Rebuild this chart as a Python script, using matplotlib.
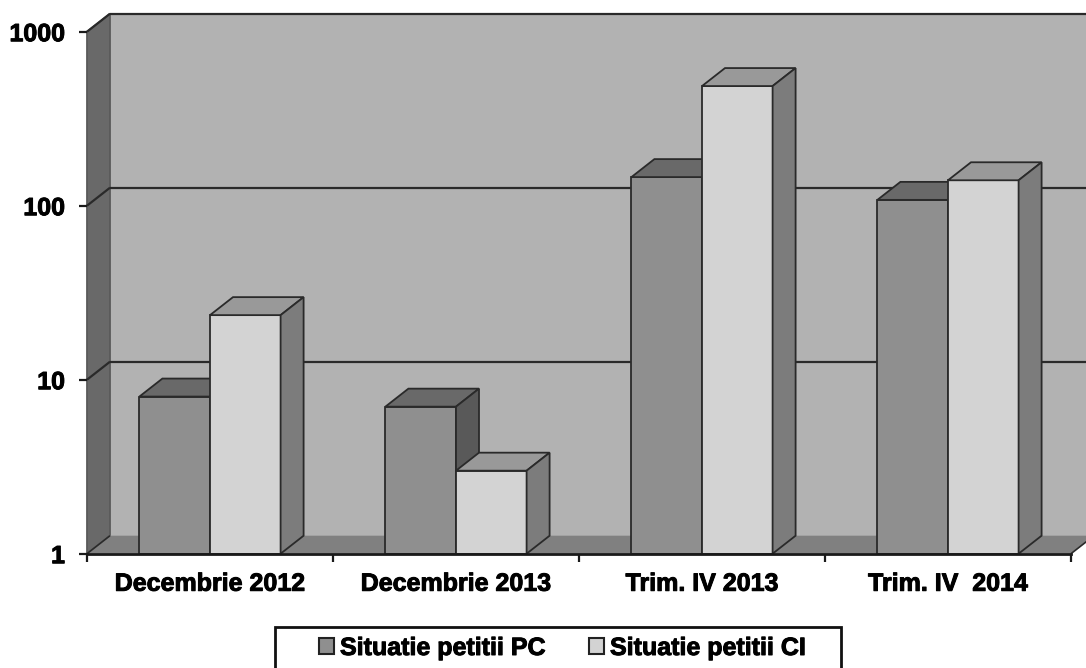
import matplotlib
matplotlib.use('Agg')
import matplotlib.pyplot as plt
from matplotlib.patches import Polygon, Patch, Rectangle
from matplotlib.ticker import NullLocator
from matplotlib.transforms import IdentityTransform
import matplotlib.patheffects as pe

categories = ['Decembrie 2012', 'Decembrie 2013', 'Trim. IV 2013', 'Trim. IV  2014']
situatie_pc = [8, 7, 146, 108]
situatie_ci = [23.5, 3, 487, 140]
y_ticks = [1, 10, 100, 1000]
series_names = ['Situatie petitii PC', 'Situatie petitii CI']

W, H = 1086, 668
DX, DY = 23, 18  # depth of the fake 3d box, in pixels
BAR_W = 0.287
LINE = '#2a2a2a'

plt.rcParams['font.family'] = ['Liberation Sans', 'DejaVu Sans']
plt.rcParams['font.weight'] = 'bold'

fig = plt.figure(figsize=(W / 100, H / 100), dpi=100)
ax = fig.add_axes([87 / W, 1 - 553.7 / H, 984 / W, 522 / H])
ax.set_yscale('log')
ax.set_xlim(0, 4)
ax.set_ylim(1, 1000)
ax.patch.set_visible(False)


def px(x, y):
    return ax.transData.transform((x, y))


def face(corners, color, z, edge=LINE, lw=1.3):
    # corners are (x, y, back?) so one polygon can span front and back planes
    pts = []
    for x, y, back in corners:
        p = px(x, y)
        pts.append((p[0] + DX * back, p[1] + DY * back))
    ax.add_patch(Polygon(pts, closed=True, facecolor=color, edgecolor=edge, linewidth=lw,
                         transform=IdentityTransform(), clip_on=False, zorder=z))


def line3d(a, b, z=2, color=LINE, lw=1.6):
    pa = px(a[0], a[1])
    pb = px(b[0], b[1])
    ax.plot([pa[0] + DX * a[2], pb[0] + DX * b[2]], [pa[1] + DY * a[2], pb[1] + DY * b[2]],
            color=color, lw=lw, transform=IdentityTransform(), clip_on=False, zorder=z,
            solid_capstyle='butt')


# walls and floor
face([(0, 1, 1), (4, 1, 1), (4, 1000, 1), (0, 1000, 1)], '#b2b2b2', 1, edge='none')
face([(0, 1, 0), (0, 1, 1), (0, 1000, 1), (0, 1000, 0)], '#696969', 1.1, edge='#5a5a5a')
face([(0, 1, 0), (4, 1, 0), (4, 1, 1), (0, 1, 1)], '#808080', 1.2, edge='none')
for v in y_ticks[1:]:
    line3d((0, v, 0), (0, v, 1))
    line3d((0, v, 1), (4, v, 1))
line3d((0, 1, 0), (0, 1, 1), lw=1.2)
line3d((4, 1, 0), (4, 1, 1), lw=1.2)


def bar3d(left, value, front, top, side, z):
    # bar height is value - 1 because the bars start at the log axis floor
    ax.bar(left, value - 1, BAR_W, bottom=1, align='edge', color=front, edgecolor=LINE,
           linewidth=1.3, zorder=z)
    right = left + BAR_W
    face([(left, value, 0), (right, value, 0), (right, value, 1), (left, value, 1)], top, z + 0.1)
    face([(right, 1, 0), (right, 1, 1), (right, value, 1), (right, value, 0)], side, z + 0.1)


for i in range(len(categories)):
    start = i + 0.5 - BAR_W
    bar3d(start, situatie_pc[i], '#8f8f8f', '#696969', '#595959', 3 + i)
    bar3d(start + BAR_W, situatie_ci[i], '#d3d3d3', '#999999', '#7c7c7c', 3.5 + i)

# axes
for s in ['top', 'right', 'left']:
    ax.spines[s].set_visible(False)
ax.spines['bottom'].set_linewidth(2)
ax.spines['bottom'].set_color('#1a1a1a')
ax.spines['bottom'].set_zorder(20)

ax.yaxis.set_minor_locator(NullLocator())
ax.set_yticks(y_ticks, [str(v) for v in y_ticks])
ax.tick_params(axis='y', length=5.8, width=1.6, pad=10, labelsize=18, color='#1a1a1a')
ax.set_xticks(range(len(categories) + 1), [''] * (len(categories) + 1))
ax.tick_params(axis='x', which='major', length=5.8, width=1.6, color='#1a1a1a')
ax.set_xticks([i + 0.5 for i in range(len(categories))], categories, minor=True)
ax.tick_params(axis='x', which='minor', length=0, pad=13, labelsize=18)

stroke = [pe.withStroke(linewidth=0.7, foreground='black')]
for t in ax.get_yticklabels() + ax.get_xticklabels(minor=True):
    t.set_path_effects(stroke)

# legend box runs off the bottom of the picture
fig.add_artist(Rectangle((275 / W, -0.01), 566 / W, 1 - 627 / H + 0.01, transform=fig.transFigure,
                         facecolor='white', edgecolor='#111111', linewidth=2))
handles = [Patch(facecolor='#8f8f8f', edgecolor='#222222', linewidth=1.5),
           Patch(facecolor='#d3d3d3', edgecolor='#222222', linewidth=1.5)]
leg = fig.legend(handles, series_names, loc='center', bbox_to_anchor=(562 / W, 1 - 648 / H),
                 ncol=2, frameon=False, fontsize=18, handlelength=0.6, handleheight=0.6,
                 handletextpad=0.25, columnspacing=1.75)
for t in leg.get_texts():
    t.set_path_effects(stroke)

fig.savefig('out.png', dpi=100)
